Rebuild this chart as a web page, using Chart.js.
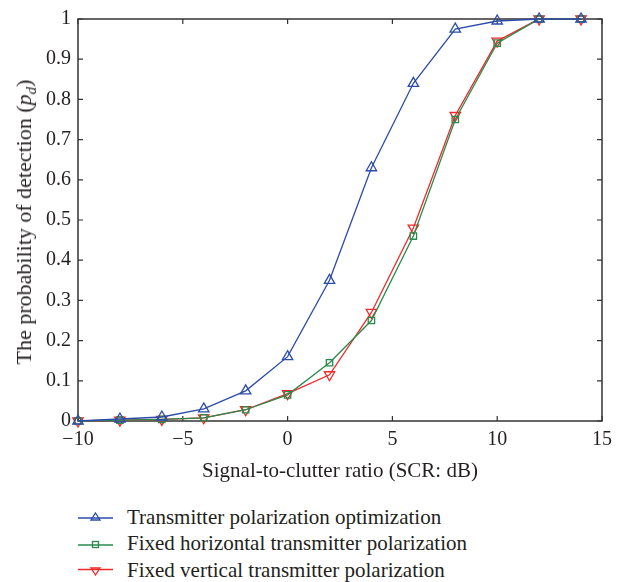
<!DOCTYPE html>
<html>
<head>
<meta charset="utf-8">
<script src="https://cdn.jsdelivr.net/npm/chart.js@4.4.0/dist/chart.umd.min.js"></script>
<style>
  body { margin: 0; background: #fff; font-family: "Liberation Serif", "DejaVu Serif", serif; color: #231f20; }
  #wrap { position: relative; width: 626px; height: 582px; }
  #ytitle { position: absolute; left: 24px; top: 222px; transform: translate(-50%, -50%) rotate(-90deg);
            white-space: nowrap; font-size: 22px; line-height: 24px; }
  #legend { position: absolute; left: 78px; top: 504px; font-size: 21px; }
  .item { height: 26.5px; display: flex; align-items: center; }
  .item svg { margin-right: 14px; }
</style>
</head>
<body>
<div id="wrap">
  <canvas id="myChart" width="626" height="486"></canvas>
  <div id="ytitle">The probability of detection (<i>p<sub style="font-size:15px;line-height:0">d</sub></i>)</div>
  <div id="legend"></div>
</div>
<script>
var snr = [-10, -8, -6, -4, -2, 0, 2, 4, 6, 8, 10, 12, 14];
var optimized = [0, 0.005, 0.01, 0.03, 0.075, 0.16, 0.35, 0.63, 0.84, 0.975, 0.995, 1, 1];
var fixedH = [0, 0.002, 0.004, 0.008, 0.028, 0.065, 0.145, 0.25, 0.46, 0.75, 0.94, 1, 1];
var fixedV = [0, 0.002, 0.004, 0.008, 0.028, 0.068, 0.115, 0.27, 0.48, 0.76, 0.945, 1, 1];
var seriesNames = ['Transmitter polarization optimization', 'Fixed horizontal transmitter polarization', 'Fixed vertical transmitter polarization'];
var xTicks = [-10, -5, 0, 5, 10, 15];
var yTicks = [0, 0.1, 0.2, 0.3, 0.4, 0.5, 0.6, 0.7, 0.8, 0.9, 1];

var colors = ['#2b4ba8', '#2a8a4c', '#f02828'];
var styles = ['triangle', 'rect', 'triangle'];
var rotations = [0, 0, 180];
var radii = [6, 4.5, 6];

function pts(ys) {
  return snr.map(function (x, i) { return { x: x, y: ys[i] }; });
}

var dataSource = {
  datasets: [optimized, fixedH, fixedV].map(function (ys, i) {
    return {
      label: seriesNames[i],
      data: pts(ys),
      borderColor: colors[i],
      backgroundColor: 'rgba(255,255,255,0)',
      borderWidth: 1.3,
      pointStyle: styles[i],
      rotation: rotations[i],
      pointRadius: radii[i],
      pointBorderWidth: 1.3,
      tension: 0,
      clip: false
    };
  })
};

var tickFont = { family: '"Liberation Serif", "DejaVu Serif", serif', size: 20 };
var titleFont = { family: '"Liberation Serif", "DejaVu Serif", serif', size: 21 };

var boxTicks = {
  id: 'boxTicks',
  beforeDatasetsDraw: function (chart) {
    var ctx = chart.ctx, a = chart.chartArea;
    var xs = chart.scales.x, ys = chart.scales.y;
    ctx.save();
    ctx.strokeStyle = '#333';
    ctx.lineWidth = 1.5;
    ctx.strokeRect(a.left, a.top, a.right - a.left, a.bottom - a.top);
    ctx.lineWidth = 1.2;
    ctx.beginPath();
    xTicks.forEach(function (v) {
      var p = xs.getPixelForValue(v);
      ctx.moveTo(p, a.bottom); ctx.lineTo(p, a.bottom - 5);
      ctx.moveTo(p, a.top); ctx.lineTo(p, a.top + 5);
    });
    yTicks.forEach(function (v) {
      var p = ys.getPixelForValue(v);
      ctx.moveTo(a.left, p); ctx.lineTo(a.left + 5, p);
      ctx.moveTo(a.right, p); ctx.lineTo(a.right - 5, p);
    });
    ctx.stroke();
    ctx.restore();
  }
};

function createChart() {
  var ctx = document.getElementById('myChart').getContext('2d');
  new Chart(ctx, {
    type: 'line',
    data: dataSource,
    plugins: [boxTicks],
    options: {
      responsive: false,
      animation: false,
      layout: { padding: { top: 16, right: 24, left: 0, bottom: 0 } },
      plugins: { legend: { display: false }, tooltip: { enabled: false } },
      scales: {
        x: {
          type: 'linear', min: -10, max: 15,
          afterBuildTicks: function (s) { s.ticks = xTicks.map(function (v) { return { value: v }; }); },
          afterFit: function (s) { s.height = 65; },
          grid: { display: false, drawTicks: false },
          border: { display: false },
          ticks: { font: tickFont, color: '#231f20', padding: 7, maxRotation: 0,
                   callback: function (v) { return String(v).replace('-', '\u2212'); } },
          title: { display: true, text: 'Signal-to-clutter ratio (SCR: dB)', font: titleFont, color: '#231f20', padding: { top: 4, bottom: 2 } }
        },
        y: {
          min: 0, max: 1,
          afterBuildTicks: function (s) { s.ticks = yTicks.map(function (v) { return { value: v }; }); },
          afterFit: function (s) { s.width = 78; },
          grid: { display: false, drawTicks: false },
          border: { display: false },
          ticks: { font: tickFont, color: '#231f20', padding: 7,
                   callback: function (v) { return String(Math.round(v * 10) / 10); } }
        }
      }
    }
  });
}

function buildLegend() {
  var box = document.getElementById('legend');
  seriesNames.forEach(function (name, i) {
    var mk;
    if (i === 0) mk = '<polygon points="17.5,6 22,13 13,13" fill="none" stroke="' + colors[i] + '" stroke-width="1.3"/>';
    else if (i === 1) mk = '<rect x="14.5" y="7.5" width="6" height="6" fill="none" stroke="' + colors[i] + '" stroke-width="1.3"/>';
    else mk = '<polygon points="17.5,15 22,8 13,8" fill="none" stroke="' + colors[i] + '" stroke-width="1.3"/>';
    var row = document.createElement('div');
    row.className = 'item';
    row.innerHTML = '<svg width="35" height="20"><line x1="0" y1="' + (i === 2 ? 9.5 : 11) + '" x2="35" y2="' + (i === 2 ? 9.5 : 11) + '" stroke="' + colors[i] + '" stroke-width="1.5"/>' + mk + '</svg><span>' + name + '</span>';
    box.appendChild(row);
  });
}

createChart();
buildLegend();
</script>
</body>
</html>
